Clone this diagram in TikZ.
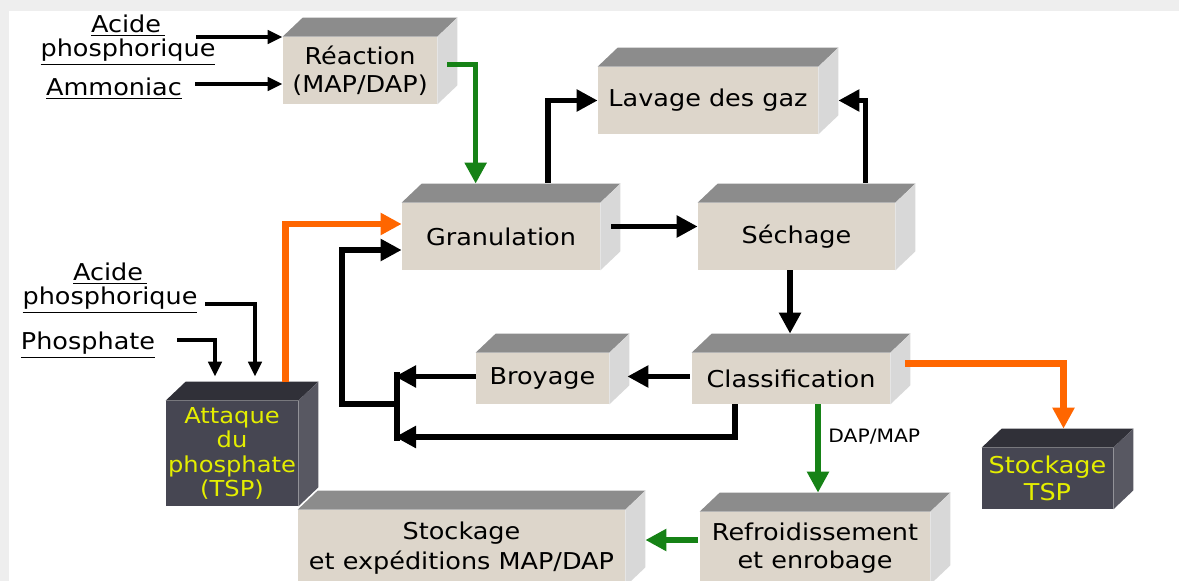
\documentclass[tikz,border=0pt]{standalone}
\usepackage{fontspec}
\setmainfont{DejaVu Sans}[FakeStretch=1.1]
\usetikzlibrary{calc,arrows.meta}
\definecolor{beige}{RGB}{221,214,203}
\definecolor{topgray}{RGB}{140,140,140}
\definecolor{sidegray}{RGB}{216,216,216}
\definecolor{darkfront}{RGB}{70,70,82}
\definecolor{darktop}{RGB}{48,48,56}
\definecolor{darkside}{RGB}{88,88,98}
\definecolor{yellowtxt}{RGB}{228,238,0}
\definecolor{myorange}{RGB}{255,102,0}
\definecolor{mygreen}{RGB}{22,130,22}
\definecolor{framegray}{RGB}{238,238,238}
\newcommand{\boxfaces}[3]{%
  \fill[#2] (#1.north west) -- ++(20,-19) -- ($(#1.north east)+(20,-19)$) -- (#1.north east) -- cycle;
  \fill[#3] (#1.north east) -- ++(20,-19) -- ($(#1.south east)+(20,-19)$) -- (#1.south east) -- cycle;}
\begin{document}
\begin{tikzpicture}[x=0.02cm,y=-0.02cm,
  boxbase/.style={rectangle, inner sep=0pt, align=center, font=\fontsize{13.2}{16}\selectfont},
  lightbox/.style 2 args={boxbase, fill=beige, text=black, minimum width=#1*0.02cm, minimum height=#2*0.02cm},
  darkbox/.style 2 args={boxbase, fill=darkfront, text=yellowtxt, minimum width=#1*0.02cm, minimum height=#2*0.02cm},
  arr/.style={line width=3.2pt, -{Triangle[length=12pt,width=12pt]}},
  inarr/.style={line width=2.8pt, -{Triangle[length=8.5pt,width=7.5pt]}, draw=black},
  blk/.style={arr, draw=black},
  grn/.style={arr, draw=mygreen},
  org/.style={arr, draw=myorange, line width=3.6pt},
  lbl/.style={align=center, inner sep=0pt, font=\fontsize{13.2}{13.6}\selectfont}
]
\useasboundingbox (0,0) rectangle (1179,581);
\fill[framegray] (0,0) rectangle (1179,581);
\fill[white] (9,11) rectangle (1179,581);

% boxes
\node[lightbox={154}{67}] (react) at (360,70.5) {Réaction\\(MAP/DAP)};
\node[lightbox={220}{67}] (lavage) at (708,100.5) {Lavage des gaz};
\node[lightbox={198}{67}] (gran) at (501,236.5) {Granulation};
\node[lightbox={197}{67}] (sech) at (796.5,236.5) {Séchage};
\node[lightbox={133}{51}] (broy) at (542.5,378.5) {Broyage};
\node[lightbox={198}{51}] (classif) at (791,378.5) {Classification};
\node[darkbox={132}{105}, font=\fontsize{12.5}{14}\selectfont] (attaque) at (232,453.5) {Attaque\\du\\phosphate\\(TSP)};
\node[darkbox={131}{61}, font=\fontsize{13.2}{15.3}\selectfont] (sttsp) at (1047.5,478.5) {Stockage\\TSP};
\node[lightbox={327}{76}, font=\fontsize{13.2}{17}\selectfont] (stmap) at (461.5,548) {Stockage\\et expéditions MAP/DAP};
\node[lightbox={230}{72}, font=\fontsize{13.2}{16}\selectfont] (refroid) at (815,548) {Refroidissement\\et enrobage};

\foreach \b in {react,lavage,gran,sech,broy,classif,stmap,refroid}{\boxfaces{\b}{topgray}{sidegray}}
\foreach \b in {attaque,sttsp}{\boxfaces{\b}{darktop}{darkside}}

% labels
\node[lbl] (acide1) at (128,40) {\underline{Acide\,}\\\underline{phosphorique}};
\node[lbl] (ammon) at (114,89) {\underline{Ammoniac}};
\node[lbl] (acide2) at (110,288) {\underline{Acide\,}\\\underline{phosphorique}};
\node[lbl] (phos) at (88,345) {\underline{Phosphate}};
\node[anchor=west, inner sep=0pt, font=\fontsize{10.5}{12}\selectfont] (dapmap) at (828,437) {DAP/MAP};

% free ends
\coordinate (s1) at (196,37);
\coordinate (s2) at (195,84);
\coordinate (s3) at (205,304);
\coordinate (s4) at (177,340);
\coordinate (jt) at (395,376.5);
\coordinate (jb) at (395,437);
\coordinate (jm) at (397,404);

% connectors
\draw[inarr] (s1) -- (s1 -| react.west);
\draw[inarr] (s2) -- (s2 -| react.west);
\draw[grn] ($(react.east)+(10,-6)$) -| ($(gran.north west)+(74,-19)$);
\draw[blk] ($(gran.north)+(47,-20)$) |- (lavage.west);
\draw[blk] ($(sech.north east)+(-30,-20)$) |- ($(lavage.east)+(20,0)$);
\draw[blk] ($(gran.east)+(11,-10)$) -- ($(sech.west)+(0,-10)$);
\draw[blk] ($(sech.south)+(-6.5,0)$) -- ($(classif.north)+(-1,-19)$);
\draw[blk] ($(classif.west)+(-2,-2)$) -- ($(broy.east)+(18,-2)$);
\draw[blk] ($(broy.west)+(0,-2)$) -- (jt);
\draw[blk] ($(classif.south)+(-56,0)$) |- (jb);
\draw[line width=3.2pt] (397,372) -- (397,441);
\draw[blk] (jm) -| (342,250) -- ($(gran.west)+(0,13.5)$);
\draw[org] ($(attaque.north east)+(-13,-19)$) |- ($(gran.west)+(0,-12.5)$);
\draw[inarr] (s3) -| ($(attaque.north)+(23,-24)$);
\draw[inarr] (s4) -| ($(attaque.north)+(-17,-24)$);
\draw[org] ($(classif.east)+(15,-15)$) -| ($(sttsp.north)+(16,-19)$);
\draw[grn] ($(classif.south)+(27,0)$) -- ($(refroid.north)+(3,-19)$);
\draw[grn] ($(refroid.west)+(-2,-8)$) -- ($(stmap.east)+(20,-8)$);
\end{tikzpicture}
\end{document}
